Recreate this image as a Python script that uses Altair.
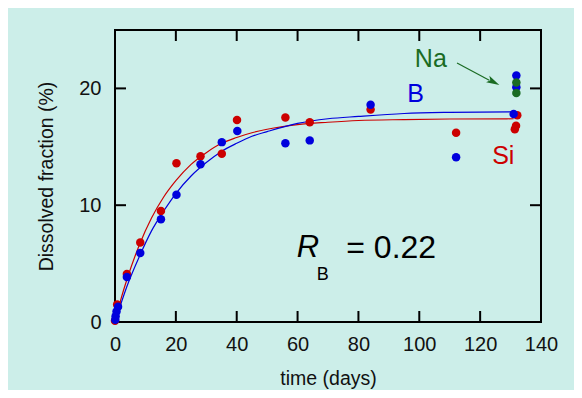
import altair as alt
import pandas as pd

# --- data ---
si_days = [0.0, 0.7, 3.9, 8.3, 15.1, 20.2, 28.1, 35.1, 40.1, 56.0, 64.0, 84.0, 112.1, 131.4, 131.8, 132.2]
si_pct = [0.1, 1.5, 4.1, 6.8, 9.5, 13.6, 14.2, 14.4, 17.3, 17.5, 17.1, 18.2, 16.2, 16.5, 16.8, 17.7]

b_days = [0.1, 0.2, 0.5, 1.0, 3.9, 8.3, 15.1, 20.2, 28.1, 35.1, 40.2, 56.0, 64.0, 84.0, 112.1, 131.0, 131.9, 131.9]
b_pct = [0.2, 0.5, 0.9, 1.3, 3.85, 5.9, 8.8, 10.9, 13.5, 15.4, 16.35, 15.3, 15.55, 18.6, 14.1, 17.8, 20.1, 21.1]

na_days = [131.9, 131.9]
na_pct = [19.6, 20.5]

fit_days = [0, 2, 4, 8, 12, 16, 20, 25, 30, 35, 40, 45, 50, 60, 70, 80, 95, 110, 131]
si_fit = [0, 2.0, 3.7, 6.6, 8.9, 10.7, 12.1, 13.5, 14.5, 15.3, 15.8, 16.2, 16.5, 16.9, 17.1, 17.25, 17.33, 17.38, 17.4]
b_fit = [0, 1.6, 3.1, 5.6, 7.8, 9.5, 11.0, 12.5, 13.65, 14.6, 15.3, 15.9, 16.3, 17.0, 17.4, 17.6, 17.85, 17.95, 18.0]

x_ticks = [0, 20, 40, 60, 80, 100, 120, 140]
y_ticks = [0, 10, 20]
inner_x_ticks = [20, 40, 60, 80, 100, 120]
inner_y_ticks = [10, 20]

RED = "#cc0000"
BLUE = "#0000dd"
GREEN = "#1a6b23"
FONT = "Liberation Sans"

W, H = 426, 292

xs = alt.Scale(domain=[0, 140], nice=False)
ys = alt.Scale(domain=[0, 25], nice=False)

si_df = pd.DataFrame({"d": si_days, "p": si_pct})
b_df = pd.DataFrame({"d": b_days, "p": b_pct})
na_df = pd.DataFrame({"d": na_days, "p": na_pct})
fit_si_df = pd.DataFrame({"d": fit_days, "p": si_fit})
fit_b_df = pd.DataFrame({"d": fit_days, "p": b_fit})

x_axis = alt.Axis(values=x_ticks, title="time (days)", ticks=False, tickSize=0, domain=False, grid=False,
                  labelFont=FONT, labelFontSize=20, labelColor="#111", labelPadding=12, labelFlush=False,
                  titleFont=FONT, titleFontSize=19.5, titleFontWeight="normal", titleColor="#111", titlePadding=15)
y_axis = alt.Axis(values=y_ticks, title="Dissolved fraction (%)", ticks=False, tickSize=0, domain=False, grid=False,
                  labelFont=FONT, labelFontSize=20, labelColor="#111", labelPadding=14, labelFlush=False,
                  titleFont=FONT, titleFontSize=19.5, titleFontWeight="normal", titleColor="#111", titlePadding=22)


def X():
    return alt.X("d:Q", scale=xs, axis=x_axis)


def Y():
    return alt.Y("p:Q", scale=ys, axis=y_axis)


si_line = alt.Chart(fit_si_df).mark_line(color=RED, strokeWidth=1.2, interpolate="monotone").encode(x=X(), y=Y())
b_line = alt.Chart(fit_b_df).mark_line(color=BLUE, strokeWidth=1.2, interpolate="monotone").encode(x=X(), y=Y())

PT = 72
si_pts = alt.Chart(si_df).mark_circle(color=RED, size=PT, opacity=1).encode(x=X(), y=Y())
b_pts = alt.Chart(b_df).mark_circle(color=BLUE, size=PT, opacity=1).encode(x=X(), y=Y())
na_pts = alt.Chart(na_df).mark_circle(color=GREEN, size=PT, opacity=1).encode(x=X(), y=Y())

xt_df = pd.DataFrame({"d": inner_x_ticks})
yt_df = pd.DataFrame({"p": inner_y_ticks})
tick_bot = alt.Chart(xt_df).mark_rule(color="black", strokeWidth=2).encode(
    x=X(), y=alt.value(H), y2=alt.value(H - 11))
tick_top = alt.Chart(xt_df).mark_rule(color="black", strokeWidth=2).encode(
    x=X(), y=alt.value(0), y2=alt.value(11))
tick_left = alt.Chart(yt_df).mark_rule(color="black", strokeWidth=2).encode(
    y=Y(), x=alt.value(0), x2=alt.value(11))
tick_right = alt.Chart(yt_df).mark_rule(color="black", strokeWidth=2).encode(
    y=Y(), x=alt.value(W), x2=alt.value(W - 11))

# annotations
lab_df = pd.DataFrame({
    "d": [103.8, 98.8, 127.6],
    "p": [22.55, 19.5, 14.2],
    "t": ["Na", "B", "Si"],
    "c": [GREEN, BLUE, RED],
})
labels = alt.Chart(lab_df).mark_text(font=FONT, fontSize=25, align="center", baseline="middle").encode(
    x=X(), y=Y(), text="t:N", color=alt.Color("c:N", scale=None))

r_txt = alt.Chart(pd.DataFrame({"d": [63.4], "p": [6.3], "t": ["R"]})).mark_text(
    font=FONT, fontSize=31, fontStyle="italic", align="center", baseline="middle", color="black").encode(
    x=X(), y=Y(), text="t:N")
rb_txt = alt.Chart(pd.DataFrame({"d": [68.3], "p": [4.05], "t": ["B"]})).mark_text(
    font=FONT, fontSize=18, align="center", baseline="middle", color="black").encode(
    x=X(), y=Y(), text="t:N")
eq_txt = alt.Chart(pd.DataFrame({"d": [76.0], "p": [6.3], "t": ["= 0.22"]})).mark_text(
    font=FONT, fontSize=32, align="left", baseline="middle", color="black").encode(
    x=X(), y=Y(), text="t:N")

arrow_df = pd.DataFrame({"d": [112.4, 123.0], "p": [22.17, 20.7]})
arrow_line = alt.Chart(arrow_df).mark_line(color=GREEN, strokeWidth=1.2).encode(x=X(), y=Y())
head = alt.Chart(pd.DataFrame({"d": [124.4], "p": [20.55]})).mark_point(
    shape="M -1 -0.55 L 1 0 L -1 0.55 L -0.55 0 Z", size=170, filled=True, color=GREEN, opacity=1,
    angle=27).encode(x=X(), y=Y())

chart = alt.layer(
    si_line, b_line, si_pts, b_pts, na_pts,
    tick_bot, tick_top, tick_left, tick_right,
    labels, r_txt, rb_txt, eq_txt, arrow_line, head,
).properties(
    width=W, height=H,
    autosize=alt.AutoSizeParams(type="none"),
    padding={"left": 107, "top": 22, "right": 33, "bottom": 68},
    background="#cceee9",
).configure_view(
    stroke="black", strokeWidth=2, fill="#cceee9"
)

chart.save("out.html", embed_options={"renderer": "svg", "actions": False})
